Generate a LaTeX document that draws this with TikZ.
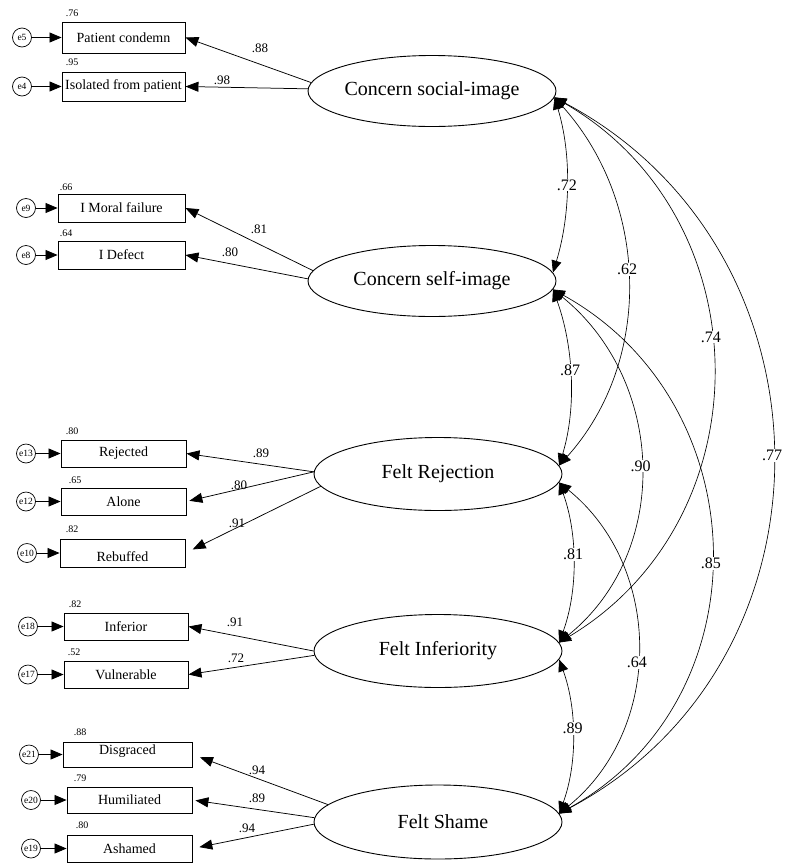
\documentclass[tikz,border=0pt]{standalone}
\usepackage{fontspec}
\setmainfont{Liberation Serif}
\usetikzlibrary{arrows.meta,shapes.geometric}
\begin{document}
\begin{tikzpicture}[x=1pt,y=1pt,
  lat/.style={ellipse,draw,line width=0.9pt,inner sep=0pt,minimum width=248pt,minimum height=71pt,font=\fontsize{20}{24}\selectfont},
  obs/.style={rectangle,draw,line width=0.9pt,inner sep=0pt,font=\fontsize{14}{16}\selectfont},
  err/.style={circle,draw,line width=0.7pt,inner sep=0pt,minimum size=19pt,font=\fontsize{9.5}{10}\selectfont},
  rsq/.style={font=\fontsize{10}{12}\selectfont,inner sep=0pt},
  ldl/.style={font=\fontsize{13}{15}\selectfont,inner sep=0pt},
  cor/.style={font=\fontsize{16}{18}\selectfont,fill=white,inner sep=1pt},
  ld/.style={-{Triangle[length=13pt,width=10pt]},line width=0.75pt},
  ea/.style={-{Triangle[length=12pt,width=10pt]},line width=0.8pt},
  cv/.style={{Triangle[length=12pt,width=10pt]}-{Triangle[length=12pt,width=10pt]},line width=0.65pt},
]
\useasboundingbox (0,0) rectangle (790,-865);

% latent variables
\node[lat] (CS) at (432,-91) {Concern social-image};
\node[lat] (CSI) at (432,-281) {Concern self-image};
\node[lat,minimum height=73pt] (FR) at (438,-474) {Felt Rejection};
\node[lat,minimum height=73pt] (FI) at (438,-651) {Felt Inferiority};
\node[lat,minimum height=74pt] (FS) at (438,-822) {\hspace*{10pt}Felt Shame};

% observed variables
\node[obs,minimum width=123pt,minimum height=31pt] (PC) at (123.5,-37.5) {Patient condemn};
\node[obs,minimum width=123pt,minimum height=29pt] (IP) at (123.5,-86.5) {Isolated from patient};
\node[obs,minimum width=127pt,minimum height=28pt] (MF) at (121.5,-208) {I Moral failure};
\node[obs,minimum width=127pt,minimum height=28pt] (DF) at (121.5,-255) {I Defect};
\node[obs,minimum width=125pt,minimum height=27pt] (RJ) at (123.5,-453.5) {Rejected};
\node[obs,minimum width=125pt,minimum height=27pt] (AL) at (123.5,-501.5) {Alone};
\node[obs,minimum width=125pt,minimum height=28pt] (RB) at (122.5,-553) {\raisebox{-4pt}[\height][\depth]{Rebuffed}};
\node[obs,minimum width=124pt,minimum height=27pt] (IN) at (126,-626.5) {Inferior};
\node[obs,minimum width=124pt,minimum height=27pt] (VU) at (126,-674.5) {Vulnerable};
\node[obs,minimum width=129pt,minimum height=25pt] (DG) at (127.5,-754.5) {\raisebox{3pt}[\height][\depth]{Disgraced}};
\node[obs,minimum width=125pt,minimum height=26pt] (HU) at (129.5,-800) {Humiliated};
\node[obs,minimum width=125pt,minimum height=27pt] (AS) at (129.5,-848.5) {Ashamed};

% error terms
\node[err] (e5) at (22,-37.5) {e5};
\node[err] (e4) at (22,-86.5) {e4};
\node[err] (e9) at (26,-208) {e9};
\node[err] (e8) at (26,-255) {e8};
\node[err] (e13) at (26,-453.5) {e13};
\node[err] (e12) at (26,-501.5) {e12};
\node[err] (e10) at (27,-553) {e10};
\node[err] (e18) at (28,-626.5) {e18};
\node[err] (e17) at (28,-674.5) {e17};
\node[err] (e21) at (29,-754.5) {e21};
\node[err] (e20) at (31,-800) {e20};
\node[err] (e19) at (31,-848.5) {e19};

\draw[ea] (e5) -- (PC);
\draw[ea] (e4) -- (IP);
\draw[ea] (e9) -- (MF);
\draw[ea] (e8) -- (DF);
\draw[ea] (e13) -- (RJ);
\draw[ea] (e12) -- (AL);
\draw[ea] (e10) -- (RB);
\draw[ea] (e18) -- (IN);
\draw[ea] (e17) -- (VU);
\draw[ea] (e21) -- (DG);
\draw[ea] (e20) -- (HU);
\draw[ea] (e19) -- (AS);

% squared multiple correlations
\node[rsq] (r5) at (72,-13) {.76};
\node[rsq] (r4) at (72,-62) {.95};
\node[rsq] (r9) at (66,-187) {.66};
\node[rsq] (r8) at (66,-233) {.64};
\node[rsq] (r13) at (72,-431) {.80};
\node[rsq] (r12) at (75,-480) {.65};
\node[rsq] (r10) at (72,-529) {.82};
\node[rsq] (r18) at (75,-604) {.82};
\node[rsq] (r17) at (74,-652) {.52};
\node[rsq] (r21) at (80,-732) {.88};
\node[rsq] (r20) at (80,-778) {.79};
\node[rsq] (r19) at (82,-825) {.80};

% loadings
\draw[ld] (CS.176) -- (PC.east);
\draw[ld] (CS.179) -- (IP.east);
\draw[ld] (CSI.175) -- (MF.east);
\draw[ld] (CSI.179) -- (DF.east);
\draw[ld] (FR.179) -- (RJ.east);
\draw[ld,shorten >=3pt] (FR.179) -- (AL.east);
\draw[ld,shorten >=8pt] (FR.186) -- (RB.east);
\draw[ld] (FI.180) -- (IN.east);
\draw[ld] (FI.182) -- (VU.east);
\draw[ld,shorten >=8pt] (FS.171) -- (DG.east);
\draw[ld,shorten >=3pt] (FS.178) -- (HU.east);
\draw[ld,shorten >=7pt] (FS.181) -- (AS.east);

\node[ldl] (l1) at (260,-48) {.88};
\node[ldl] (l2) at (222,-80) {.98};
\node[ldl] (l3) at (259,-229) {.81};
\node[ldl] (l4) at (230,-252) {.80};
\node[ldl] (l5) at (261,-453) {.89};
\node[ldl] (l6) at (239,-485) {.80};
\node[ldl] (l7) at (237,-523) {.91};
\node[ldl] (l8) at (235,-622) {.91};
\node[ldl] (l9) at (236,-658) {.72};
\node[ldl] (l10) at (257,-770) {.94};
\node[ldl] (l11) at (257,-798) {.89};
\node[ldl] (l12) at (247,-828) {.94};

% correlations
\draw[cv] (CS.-3) to[out=-73,in=73,looseness=0.87] node[cor] {.72} (CSI.4);
\draw[cv] (CS.-3) to[out=-48,in=48,looseness=0.98] node[cor,pos=0.47] {.62} (FR.4);
\draw[cv] (CS.-3) to[out=-30,in=31,looseness=1.13] node[cor,pos=0.45] {.74} (FI.4);
\draw[cv] (CS.-3) to[out=-28,in=28,looseness=1.16] node[cor] {.77} (FS.4);
\draw[cv] (CSI.-4) to[out=-70,in=73,looseness=0.875] node[cor,pos=0.46] {.87} (FR.4);
\draw[cv] (CSI.-4) to[out=-39,in=39,looseness=1.05] node[cor] {.90} (FI.4);
\draw[cv] (CSI.-4) to[out=-29,in=29,looseness=1.15] node[cor,pos=0.52] {.85} (FS.4);
\draw[cv] (FR.-4) to[out=-70,in=70,looseness=0.88] node[cor,pos=0.45] {.81} (FI.4);
\draw[cv] (FR.-4) to[out=-39,in=39,looseness=1.04] node[cor,pos=0.54] {.64} (FS.4);
\draw[cv] (FI.-4) to[out=-70,in=70,looseness=0.88] node[cor,pos=0.45] {.89} (FS.4);
\end{tikzpicture}
\end{document}
